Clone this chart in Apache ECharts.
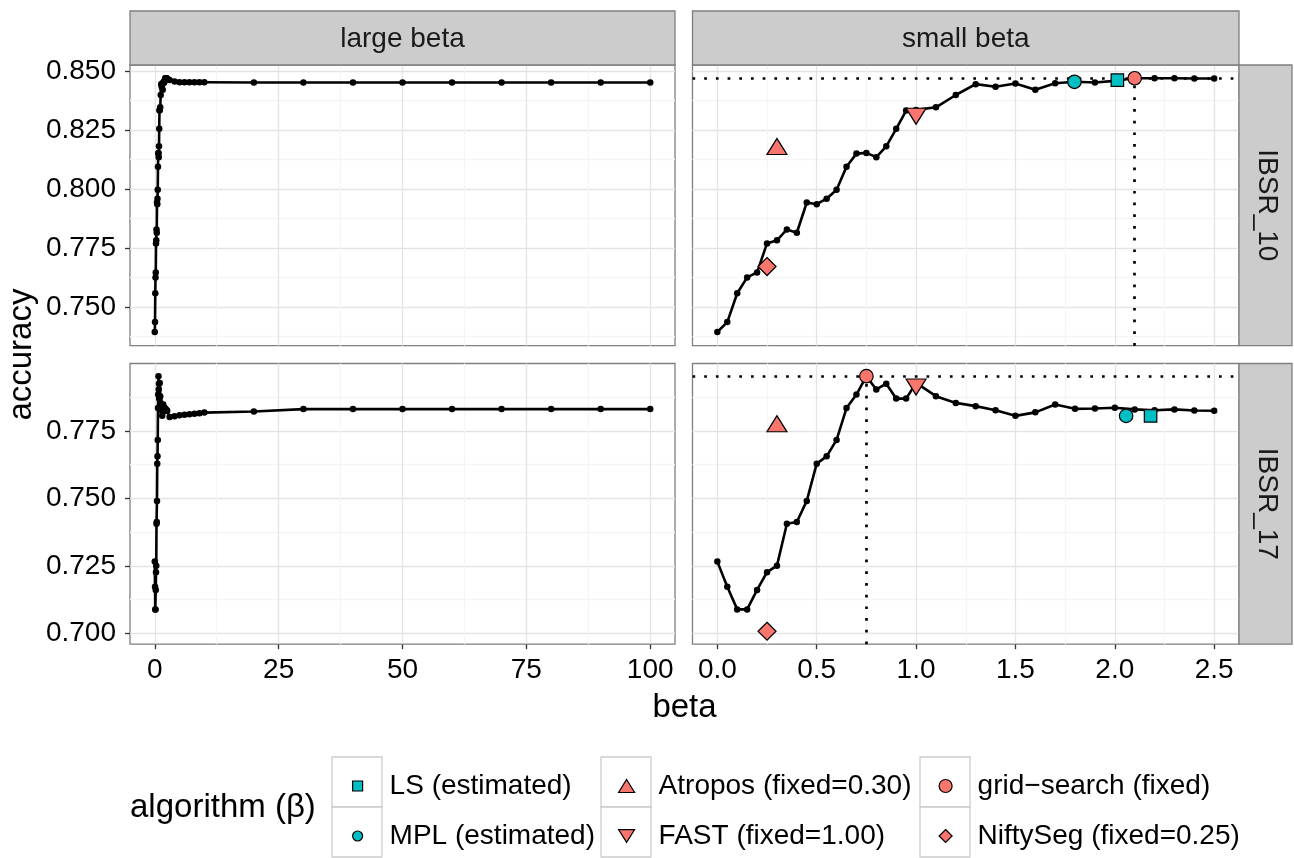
<!DOCTYPE html>
<html><head><meta charset="utf-8">
<script src="https://cdn.jsdelivr.net/npm/echarts@6/dist/echarts.min.js"></script>
<style>html,body{margin:0;padding:0;background:#fff}#c{width:1294px;height:858px}</style>
</head><body><div id="c"></div>
<script>
// ---------- data ----------
const betaSmall = [0,0.05,0.1,0.15,0.2,0.25,0.3,0.35,0.4,0.45,0.5,0.55,0.6,0.65,0.7,0.75,0.8,0.85,0.9,0.95,1.0,
                   1.1,1.2,1.3,1.4,1.5,1.6,1.7,1.8,1.9,2.0,2.1,2.2,2.3,2.4,2.5];
const ibsr10Small = [0.7395,0.7437,0.7559,0.7626,0.7647,0.7770,0.7783,0.7829,0.7815,0.7943,0.7936,0.7959,0.7997,0.8094,0.8150,0.8153,0.8135,0.8181,0.8255,0.8332,0.8335,
                     0.8346,0.8398,0.8444,0.8433,0.8447,0.8420,0.8448,0.8454,0.8451,0.8458,0.8469,0.8469,0.8469,0.8468,0.8468];
const ibsr17Small = [0.7266,0.7173,0.7089,0.7089,0.7161,0.7227,0.7251,0.7406,0.7413,0.7491,0.7629,0.7656,0.7717,0.7835,0.7885,0.7953,0.7904,0.7925,0.7870,0.7870,0.7928,
                     0.7879,0.7854,0.7842,0.7827,0.7806,0.7819,0.7848,0.7832,0.7833,0.7836,0.7830,0.7827,0.7830,0.7826,0.7825];
const betaLargeExtra = [3,4,5,6,7,8,9,10,20,30,40,50,60,70,80,90,100];
const ibsr10LargeExtra = [0.8462,0.8455,0.8452,0.8452,0.8452,0.8452,0.8452,0.8452,0.8451,0.8451,0.8451,0.8451,0.8451,0.8451,0.8451,0.8451,0.8451];
const ibsr17LargeExtra = [0.7802,0.7805,0.7808,0.7810,0.7812,0.7814,0.7816,0.7818,0.7822,0.7831,0.7831,0.7831,0.7831,0.7831,0.7831,0.7831,0.7831];

const algorithms = ['LS (estimated)','MPL (estimated)','Atropos (fixed=0.30)','FAST (fixed=1.00)','grid\u2212search (fixed)','NiftySeg (fixed=0.25)'];
const algoBeta10 = [2.013,1.797,0.30,1.00,2.10,0.25];
const algoAcc10  = [0.8461,0.8454,0.8180,0.8308,0.8469,0.7672];
const algoBeta17 = [2.180,2.057,0.30,1.00,0.75,0.25];
const algoAcc17  = [0.7806,0.7806,0.7777,0.7913,0.7953,0.7008];

const facetCols = ['large beta','small beta'];
const facetRows = ['IBSR_10','IBSR_17'];
const xTicksLarge = [0,25,50,75,100];
const xMinorLarge = [12.5,37.5,62.5,87.5];
const xTicksSmall = [0,0.5,1,1.5,2,2.5];
const xMinorSmall = [0.25,0.75,1.25,1.75,2.25];
const yTicks10 = [0.75,0.775,0.8,0.825,0.85];
const yMinor10 = [0.7375,0.7625,0.7875,0.8125,0.8375];
const yTicks17 = [0.7,0.725,0.75,0.775];
const yMinor17 = [0.7125,0.7375,0.7625,0.7875];

// ---------- styling / layout ----------
const FONT = 'Liberation Sans, Arial, Helvetica, sans-serif';
const TXT = 28, TTL = 33;
const SALMON = '#F8766D', CYAN = '#00BFC4';
const algoStyle = [
  {symbol:'rect', size:[12.5,12.5], color:CYAN},
  {symbol:'circle', size:13.5, color:CYAN},
  {symbol:'triangle', size:[20,16], color:SALMON},
  {symbol:'path://M0,0L20,0L10,16Z', size:[20,16], color:SALMON},
  {symbol:'circle', size:13.5, color:SALMON},
  {symbol:'diamond', size:18, color:SALMON}
];
const LX = 130, LW = 545, RX = 692.5, RW = 546.5, TY = 65, BY = 363.5, PH = 280.7;
const panels = [
  {left:LX, top:TY, width:LW, height:PH, xr:[-5,105], yr:[0.7337,0.8525], xt:xTicksLarge, xm:xMinorLarge, yt:yTicks10, ym:yMinor10, showX:false, showY:true},
  {left:RX, top:TY, width:RW, height:PH, xr:[-0.125,2.625], yr:[0.7337,0.8525], xt:xTicksSmall, xm:xMinorSmall, yt:yTicks10, ym:yMinor10, showX:false, showY:false},
  {left:LX, top:BY, width:LW, height:PH, xr:[-5,105], yr:[0.6960,0.8000], xt:xTicksLarge, xm:xMinorLarge, yt:yTicks17, ym:yMinor17, showX:true, showY:true},
  {left:RX, top:BY, width:RW, height:PH, xr:[-0.125,2.625], yr:[0.6960,0.8000], xt:xTicksSmall, xm:xMinorSmall, yt:yTicks17, ym:yMinor17, showX:true, showY:false}
];
const MAJ = '#e4e4e4', MIN = '#f5f5f5';
const grid = [], xAxis = [], yAxis = [];
const noLine = {show:false, onZero:false};
panels.forEach((p, i) => {
  grid.push({left:p.left, top:p.top, width:p.width, height:p.height, show:true, backgroundColor:'#fff',
             borderColor:'#7f7f7f', borderWidth:1.3, containLabel:false});
  const small = (i % 2 === 1);
  xAxis.push({gridIndex:i, type:'value', min:p.xr[0], max:p.xr[1], position:'bottom',
    axisLine:noLine,
    axisTick:{show:p.showX, customValues:p.xt, length:5, lineStyle:{color:'#333', width:1.3}},
    axisLabel:{show:p.showX, customValues:p.xt, margin:12, color:'#000', fontSize:TXT, fontFamily:FONT,
               formatter: v => small ? v.toFixed(1) : String(Math.round(v))},
    splitLine:{show:true, lineStyle:{color:MAJ, width:1.3}}});
  xAxis.push({gridIndex:i, type:'value', min:p.xr[0], max:p.xr[1], position:'top',
    axisLine:noLine, axisTick:{show:false, customValues:p.xm}, axisLabel:{show:false, customValues:p.xm},
    splitLine:{show:true, lineStyle:{color:MIN, width:1.3}}});
  yAxis.push({gridIndex:i, type:'value', min:p.yr[0], max:p.yr[1], position:'left',
    axisLine:noLine,
    axisTick:{show:p.showY, customValues:p.yt, length:5, lineStyle:{color:'#333', width:1.3}},
    axisLabel:{show:p.showY, customValues:p.yt, margin:14, color:'#000', fontSize:TXT, fontFamily:FONT,
               formatter: v => v.toFixed(3)},
    splitLine:{show:true, lineStyle:{color:MAJ, width:1.3}}});
  yAxis.push({gridIndex:i, type:'value', min:p.yr[0], max:p.yr[1], position:'right',
    axisLine:noLine, axisTick:{show:false, customValues:p.ym}, axisLabel:{show:false, customValues:p.ym},
    splitLine:{show:true, lineStyle:{color:MIN, width:1.3}}});
});

function pairs(xs, ys) { return xs.map((x, k) => [x, ys[k]]); }
const curveData = [
  pairs(betaSmall.concat(betaLargeExtra), ibsr10Small.concat(ibsr10LargeExtra)),
  pairs(betaSmall, ibsr10Small),
  pairs(betaSmall.concat(betaLargeExtra), ibsr17Small.concat(ibsr17LargeExtra)),
  pairs(betaSmall, ibsr17Small)
];
const GS = 4; // grid-search index
const refLines = {1:[algoBeta10[GS], algoAcc10[GS]], 3:[algoBeta17[GS], algoAcc17[GS]]};

const series = [];
curveData.forEach((d, i) => {
  const s = {type:'line', xAxisIndex:2*i, yAxisIndex:2*i, data:d, symbol:'circle', symbolSize:6.5,
    itemStyle:{color:'#000'}, lineStyle:{color:'#000', width:2.6}, z:3, silent:true, animation:false,
    emphasis:{disabled:true}};
  if (refLines[i]) {
    s.markLine = {silent:true, animation:false, precision:6, symbol:['none','none'], label:{show:false},
      lineStyle:{color:'#000', width:2.7, type:[2.7,9], cap:'butt'},
      emphasis:{disabled:true},
      data:[{xAxis:refLines[i][0]}, {yAxis:refLines[i][1]}]};
  }
  series.push(s);
});
algorithms.forEach((name, a) => {
  [[1, algoBeta10, algoAcc10], [3, algoBeta17, algoAcc17]].forEach(([gi, bx, ay]) => {
    series.push({type:'scatter', name:name, xAxisIndex:2*gi, yAxisIndex:2*gi,
      data:[[bx[a], ay[a]]], symbol:algoStyle[a].symbol, symbolSize:algoStyle[a].size,
      itemStyle:{color:algoStyle[a].color, borderColor:'#000', borderWidth:1.2, opacity:1},
      z:6, silent:true, animation:false, emphasis:{disabled:true}});
  });
});

// legend (keys drawn in 50x50 boxes, labels start 57px from box left)
const keyCols = [332, 601, 920];
const keyIconW = [10, 16, 13];
const keyIconH = [10, 13, 13];
const legend = keyCols.map((lx, c) => ({
  data: algorithms.slice(2*c, 2*c+2), left: lx + 25 - keyIconW[c]/2, top:771, orient:'vertical', padding:0,
  itemWidth:keyIconW[c], itemHeight:keyIconH[c], itemGap:20, selectedMode:false,
  itemStyle:{borderColor:'#000', borderWidth:1.2},
  textStyle:{fontSize:TXT, lineHeight:30, color:'#000', fontFamily:FONT, padding:[0,0,0,27 - keyIconW[c]/2]}
}));

// decorations: strips, key boxes, titles
const graphic = [];
const STRIP = {fill:'#cccccc', stroke:'#7f7f7f', lineWidth:1.3};
[[LX, LW], [RX, RW]].forEach(([x, w], c) => {
  graphic.push({type:'rect', shape:{x:x, y:11, width:w, height:TY-11}, style:STRIP, z:1});
  graphic.push({type:'text', x:x + w/2, y:(11+TY)/2 + 1, z:2,
    style:{text:facetCols[c], align:'center', verticalAlign:'middle', fontSize:TXT, fontFamily:FONT, fill:'#1a1a1a'}});
});
[[TY], [BY]].forEach(([y], r) => {
  graphic.push({type:'rect', shape:{x:RX+RW, y:y, width:1292-(RX+RW), height:PH}, style:STRIP, z:1});
  graphic.push({type:'text', x:(RX+RW+1292)/2 + 1, y:y + PH/2, rotation:-Math.PI/2, z:2,
    style:{text:facetRows[r], align:'center', verticalAlign:'middle', fontSize:TXT, fontFamily:FONT, fill:'#1a1a1a'}});
});
keyCols.forEach(kx => {
  [757, 807].forEach(ky => {
    graphic.push({type:'rect', shape:{x:kx, y:ky, width:50, height:50}, style:{fill:'#fff', stroke:'#cccccc', lineWidth:1.3}, z:0});
  });
});
graphic.push({type:'text', x:22, y:(TY + BY + PH)/2, rotation:Math.PI/2, z:2,
  style:{text:'accuracy', align:'center', verticalAlign:'middle', fontSize:TTL, fontFamily:FONT, fill:'#000'}});
graphic.push({type:'text', x:(LX + RX + RW)/2, y:708, z:2,
  style:{text:'beta', align:'center', verticalAlign:'middle', fontSize:TTL, fontFamily:FONT, fill:'#000'}});
graphic.push({type:'text', x:130, y:808, z:2,
  style:{text:'algorithm (\u03b2)', align:'left', verticalAlign:'middle', fontSize:TTL, fontFamily:FONT, fill:'#000'}});

const chart = echarts.init(document.getElementById('c'), null, {renderer:'canvas'});
chart.setOption({backgroundColor:'#fff', animation:false, grid, xAxis, yAxis, series, legend, graphic, tooltip:{show:false}});
</script></body></html>
